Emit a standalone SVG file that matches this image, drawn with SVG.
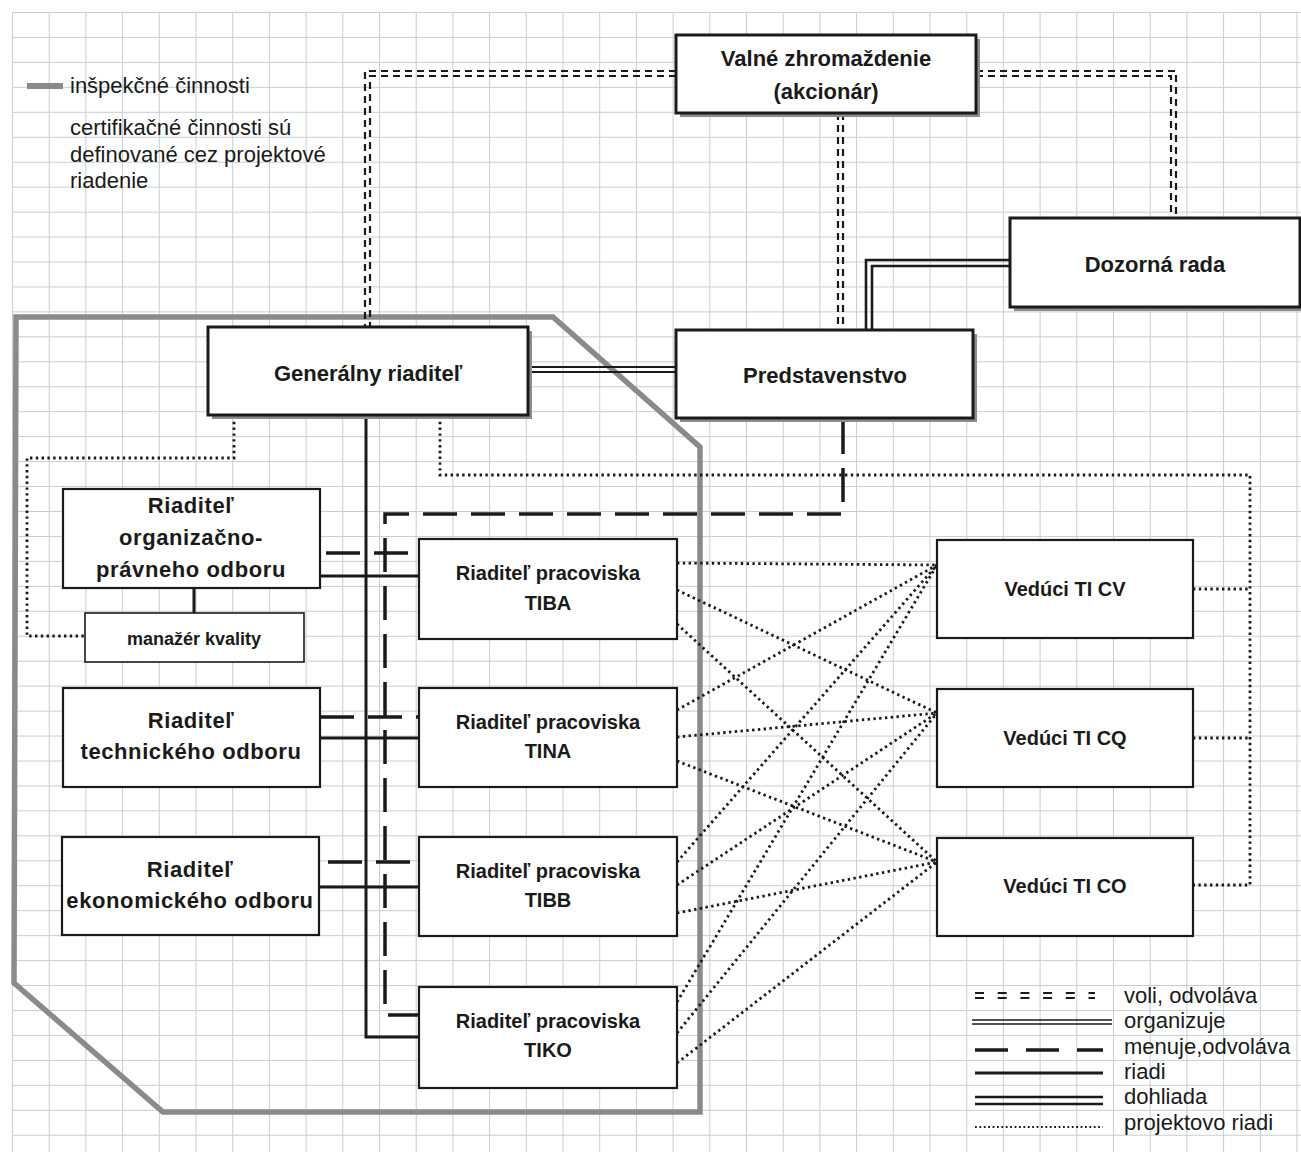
<svg xmlns="http://www.w3.org/2000/svg" width="1301" height="1156" viewBox="0 0 1301 1156">
<defs>
<pattern id="grid" x="12" y="12" width="36.7" height="24.95" patternUnits="userSpaceOnUse">
<path d="M0,0.5 H36.7 M0.5,0 V24.95" fill="none" stroke="#c6cdd6" stroke-width="1"/>
</pattern>
<style>
.box{fill:#fff;stroke:#1a1a1a;stroke-width:2.2}
.bbox{fill:#fff;stroke:#1a1a1a;stroke-width:3}
.shadow{fill:#8c8c8c}
.t{font-family:"Liberation Sans",Arial,sans-serif;font-weight:bold;fill:#1a1a1a;text-anchor:middle}
.big{font-size:22px}
.mid{font-size:22px;letter-spacing:0.6px}
.ti{font-size:20px}
.lg{font-family:"Liberation Sans",Arial,sans-serif;font-size:22px;fill:#1a1a1a}
.voli{fill:none;stroke:#1a1a1a;stroke-width:2.2;stroke-dasharray:7 5}
.org{fill:none;stroke:#1a1a1a;stroke-width:1.8}
.dohl{fill:none;stroke:#1a1a1a;stroke-width:2.6}
.men{fill:none;stroke:#1a1a1a;stroke-width:3.5;stroke-dasharray:34 14}
.riadi{fill:none;stroke:#1a1a1a;stroke-width:3}
.proj{fill:none;stroke:#1a1a1a;stroke-width:2.8;stroke-dasharray:2.4 3.4}
.insp{fill:none;stroke:#8a8a8a;stroke-width:5.5}
</style>
</defs>
<rect width="1301" height="1156" fill="#fff"/>
<rect x="12" y="12" width="1289" height="1140" fill="url(#grid)"/>

<g id="legend-top">
<line x1="27" y1="86" x2="63" y2="86" stroke="#8a8a8a" stroke-width="6"/>
<text class="lg" x="70" y="93">inšpekčné činnosti</text>
<text class="lg" x="70" y="135">certifikačné činnosti sú</text>
<text class="lg" x="70" y="162">definované cez projektové</text>
<text class="lg" x="70" y="188">riadenie</text>
</g>

<g id="inspection-area">
<path class="insp" d="M16,317 H553 L700,447 V1112 H163 L14,983 Z"/>
</g>

<g id="connectors">
<path class="voli" d="M676,71 H365 V327"/>
<path class="voli" d="M676,76 H370 V327"/>
<path class="voli" d="M976,71 H1176 V218"/>
<path class="voli" d="M976,76 H1171 V218"/>
<path class="voli" d="M838,113 V330"/>
<path class="voli" d="M843,113 V330"/>
<path class="org" d="M528,367 H676"/>
<path class="org" d="M528,372 H676"/>
<path class="dohl" d="M1010,260 H866 V330"/>
<path class="dohl" d="M1010,266 H872 V330"/>
<path class="men" d="M843,420 V514 H385 V1015 H419"/>
<path class="men" d="M326,553 H419"/>
<path class="men" d="M320,717 H419"/>
<path class="men" d="M328,862 H419"/>
<path class="riadi" d="M366,415 V1037 H419"/>
<path class="riadi" d="M320,576 H419"/>
<path class="riadi" d="M320,738 H419"/>
<path class="riadi" d="M319,887 H419"/>
<path class="riadi" d="M194,588 V613"/>
<path class="proj" d="M234,416 V458 H27 V636 H85"/>
<path class="proj" d="M440,416 V475 H1250 V885 H1193"/>
<path class="proj" d="M1193,589 H1250"/>
<path class="proj" d="M1193,738 H1250"/>
<path class="proj" d="M677,563 L937,565 M677,590 L937,713 M677,624 L937,862"/>
<path class="proj" d="M677,710 L937,565 M677,737 L937,713 M677,761 L937,862"/>
<path class="proj" d="M677,862 L937,565 M677,885 L937,713 M677,913 L937,862"/>
<path class="proj" d="M677,1002 L937,565 M677,1033 L937,713 M677,1063 L937,862"/>
</g>

<g id="valne-zhromazdenie">
<rect class="shadow" x="680" y="39" width="300" height="78"/>
<rect class="bbox" x="676" y="35" width="300" height="78"/>
<text class="t big" x="826" y="66">Valné zhromaždenie</text>
<text class="t big" x="826" y="99">(akcionár)</text>
</g>

<g id="dozorna-rada">
<rect class="shadow" x="1014" y="222" width="290" height="89"/>
<rect class="bbox" x="1010" y="218" width="290" height="89"/>
<text class="t big" x="1155" y="272">Dozorná rada</text>
</g>

<g id="predstavenstvo">
<rect class="shadow" x="680" y="334" width="297" height="88"/>
<rect class="bbox" x="676" y="330" width="297" height="88"/>
<text class="t big" x="825" y="383">Predstavenstvo</text>
</g>

<g id="generalny-riaditel">
<rect class="shadow" x="212" y="331" width="320" height="88"/>
<rect class="bbox" x="208" y="327" width="320" height="88"/>
<text class="t big" x="368" y="381">Generálny riaditeľ</text>
</g>

<g id="riaditel-org">
<rect class="box" x="63" y="489" width="257" height="99"/>
<text class="t mid" x="191" y="513">Riaditeľ</text>
<text class="t mid" x="191" y="545">organizačno-</text>
<text class="t mid" x="191" y="577">právneho odboru</text>
</g>

<g id="manazer-kvality">
<rect class="box" x="85" y="613" width="219" height="49" style="stroke-width:1.6"/>
<text class="t" x="194" y="645" style="font-size:18px">manažér kvality</text>
</g>

<g id="riaditel-tech">
<rect class="box" x="63" y="688" width="257" height="99"/>
<text class="t mid" x="191" y="728">Riaditeľ</text>
<text class="t mid" x="191" y="759">technického odboru</text>
</g>

<g id="riaditel-ekon">
<rect class="box" x="62" y="837" width="257" height="98"/>
<text class="t mid" x="190" y="877">Riaditeľ</text>
<text class="t mid" x="190" y="908">ekonomického odboru</text>
</g>

<g id="tiba">
<rect class="box" x="419" y="539" width="258" height="100"/>
<text class="t ti" x="548" y="580">Riaditeľ pracoviska</text>
<text class="t ti" x="548" y="610">TIBA</text>
</g>

<g id="tina">
<rect class="box" x="419" y="688" width="258" height="99"/>
<text class="t ti" x="548" y="729">Riaditeľ pracoviska</text>
<text class="t ti" x="548" y="758">TINA</text>
</g>

<g id="tibb">
<rect class="box" x="419" y="837" width="258" height="99"/>
<text class="t ti" x="548" y="878">Riaditeľ pracoviska</text>
<text class="t ti" x="548" y="907">TIBB</text>
</g>

<g id="tiko">
<rect class="box" x="419" y="987" width="258" height="101"/>
<text class="t ti" x="548" y="1028">Riaditeľ pracoviska</text>
<text class="t ti" x="548" y="1057">TIKO</text>
</g>

<g id="veduci-cv">
<rect class="box" x="937" y="540" width="256" height="98"/>
<text class="t ti" x="1065" y="596">Vedúci TI CV</text>
</g>

<g id="veduci-cq">
<rect class="box" x="937" y="689" width="256" height="98"/>
<text class="t ti" x="1065" y="745">Vedúci TI CQ</text>
</g>

<g id="veduci-co">
<rect class="box" x="937" y="838" width="256" height="98"/>
<text class="t ti" x="1065" y="893">Vedúci TI CO</text>
</g>

<g id="legend-bottom">
<path d="M975,993 H1095 M975,998 H1095" fill="none" stroke="#1a1a1a" stroke-width="2.2" stroke-dasharray="9 13.7"/>
<text class="lg" x="1124" y="1003">voli, odvoláva</text>
<path d="M972,1020 H1112 M972,1024 H1112" fill="none" stroke="#1a1a1a" stroke-width="1.5"/>
<text class="lg" x="1124" y="1028">organizuje</text>
<path d="M975,1050 H1103" fill="none" stroke="#1a1a1a" stroke-width="3.5" stroke-dasharray="33 18"/>
<text class="lg" x="1124" y="1054">menuje,odvoláva</text>
<path d="M975,1073 H1103" fill="none" stroke="#1a1a1a" stroke-width="3"/>
<text class="lg" x="1124" y="1079">riadi</text>
<path d="M975,1097 H1103 M975,1104 H1103" fill="none" stroke="#1a1a1a" stroke-width="2.6"/>
<text class="lg" x="1124" y="1104">dohliada</text>
<path d="M975,1127 H1103" fill="none" stroke="#1a1a1a" stroke-width="1.8" stroke-dasharray="1.8 2.6"/>
<text class="lg" x="1124" y="1130">projektovo riadi</text>
</g>
</svg>
